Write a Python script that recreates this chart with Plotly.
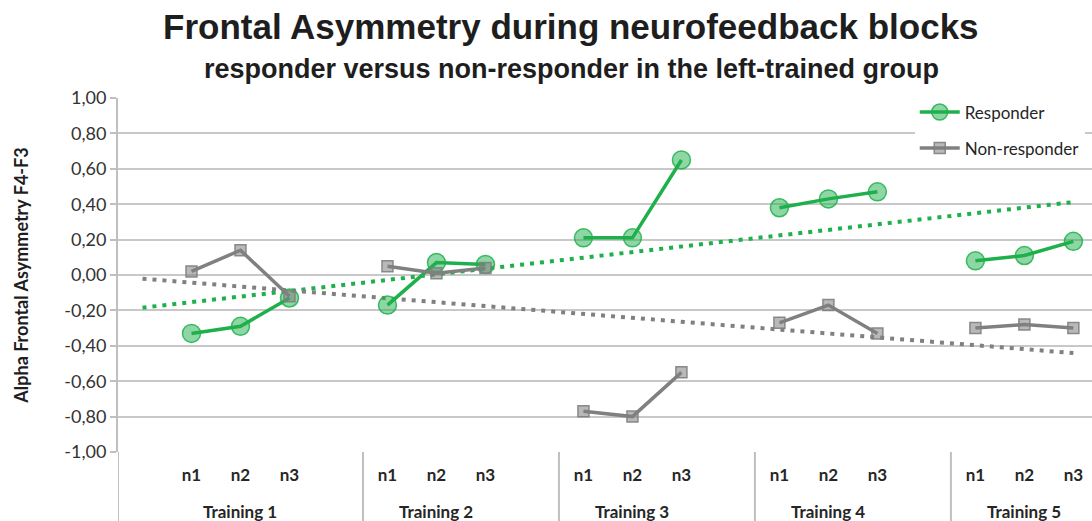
import numpy as np
import plotly.graph_objects as go

# ---- data ----
trainings = ["Training 1", "Training 2", "Training 3", "Training 4", "Training 5"]
blocks = ["n1", "n2", "n3"]
responder = [-0.33, -0.29, -0.13,
             -0.17, 0.07, 0.06,
             0.21, 0.21, 0.65,
             0.38, 0.43, 0.47,
             0.08, 0.11, 0.19]
non_responder = [0.02, 0.14, -0.12,
                 0.05, 0.01, 0.04,
                 -0.77, -0.80, -0.55,
                 -0.27, -0.17, -0.33,
                 -0.30, -0.28, -0.30]
y_ticks = [1.0, 0.8, 0.6, 0.4, 0.2, 0.0, -0.2, -0.4, -0.6, -0.8, -1.0]

GREEN = "rgb(30,176,75)"
GREY = "rgb(128,128,128)"

# Each training occupies 4 category slots: one blank slot, then n1, n2, n3
n_slots = 4 * len(trainings)
slot_x = list(range(n_slots))
pt_x = [4 * k + j + 1 for k in range(len(trainings)) for j in range(len(blocks))]


def spread(vals):
    full = [None] * n_slots
    for x, v in zip(pt_x, vals):
        full[x] = v
    return full


def trend(vals):
    a, b = np.polyfit(pt_x, vals, 1)
    xs = [slot_x[0], slot_x[-1]]
    return xs, [a * x + b for x in xs]


fig = go.Figure()

# trend lines
tx, ty = trend(responder)
fig.add_trace(go.Scatter(x=tx, y=ty, mode="lines", showlegend=False, hoverinfo="skip",
                         line=dict(color=GREEN, width=4, dash="4px,6px")))
tx, ty = trend(non_responder)
fig.add_trace(go.Scatter(x=tx, y=ty, mode="lines", showlegend=False, hoverinfo="skip",
                         line=dict(color=GREY, width=4, dash="4px,6px")))

fig.add_trace(go.Scatter(
    x=slot_x, y=spread(responder), name="Responder", mode="lines+markers",
    connectgaps=False, legendgroup="r",
    line=dict(color=GREEN, width=3.5),
    marker=dict(symbol="circle", size=18, color="rgba(30,176,75,0.5)",
                line=dict(color="rgba(30,176,75,0.85)", width=1.5))))
fig.add_trace(go.Scatter(
    x=slot_x, y=spread(non_responder), name="Non-responder", mode="lines+markers",
    connectgaps=False, legendgroup="n",
    line=dict(color=GREY, width=3.5),
    marker=dict(symbol="square", size=11, color="rgba(128,128,128,0.55)",
                line=dict(color="rgba(128,128,128,0.9)", width=1.5))))

# axis-area separators between trainings (and y axis extension)
sep_x = [-0.5] + [4 * k + 0.5 for k in range(1, len(trainings))]
for sx in sep_x:
    fig.add_shape(type="line", xref="x", yref="paper", x0=sx, x1=sx, y0=0, y1=-0.2,
                  line=dict(color="rgb(191,191,191)", width=2), layer="below")

# training labels
for k, t in enumerate(trainings):
    fig.add_annotation(x=4 * k + 2, y=-0.168, xref="x", yref="paper", text=t,
                       showarrow=False, yanchor="middle",
                       font=dict(family="Lato", size=17, color="#262626", weight="bold"))

# titles
fig.add_annotation(x=0.465, y=1.203, xref="paper", yref="paper", showarrow=False,
                   text="<b>Frontal Asymmetry during neurofeedback blocks</b>",
                   yanchor="middle",
                   font=dict(family="Liberation Sans", size=35, color="#1e1e1e"))
fig.add_annotation(x=0.466, y=1.082, xref="paper", yref="paper", showarrow=False,
                   text="<b>responder versus non-responder in the left-trained group</b>",
                   yanchor="middle",
                   font=dict(family="Liberation Sans", size=27, color="#1e1e1e"))

fig.update_layout(
    width=1092, height=521,
    margin=dict(l=118, r=0, t=98, b=69, autoexpand=False),
    paper_bgcolor="white", plot_bgcolor="white",
    showlegend=True,
    legend=dict(x=0.818, y=1.01, xanchor="left", yanchor="top",
                bgcolor="white", borderwidth=0, tracegroupgap=11,
                font=dict(family="Lato", size=17, color="#262626"),
                itemwidth=40),
    xaxis=dict(range=[-0.5, 19.38], tickvals=pt_x, automargin=False,
               ticktext=[f"<b>{b}</b>" for _ in trainings for b in blocks],
               tickfont=dict(family="Lato", size=17, color="#262626"),
               showgrid=False, zeroline=False, showline=False, ticks="",
               ticklabelstandoff=11),
    yaxis=dict(range=[-1, 1], tickvals=y_ticks, automargin=False,
               ticktext=[f"{v:.2f}".replace(".", ",") for v in y_ticks],
               tickfont=dict(family="Lato", size=18, color="#333333"),
               showgrid=True, gridcolor="rgb(200,200,200)", gridwidth=2,
               zeroline=False, showline=True, linecolor="rgb(191,191,191)", linewidth=2,
               ticks="outside", ticklen=6, tickcolor="rgb(191,191,191)", tickwidth=2,
               title=dict(text="<b>Alpha Frontal Asymmetry F4-F3</b>", standoff=31,
                          font=dict(family="Lato", size=18, color="#1e1e1e"))),
)

fig.write_html("out.html", config={"displayModeBar": False},
               post_script="document.body.style.margin='0';")
